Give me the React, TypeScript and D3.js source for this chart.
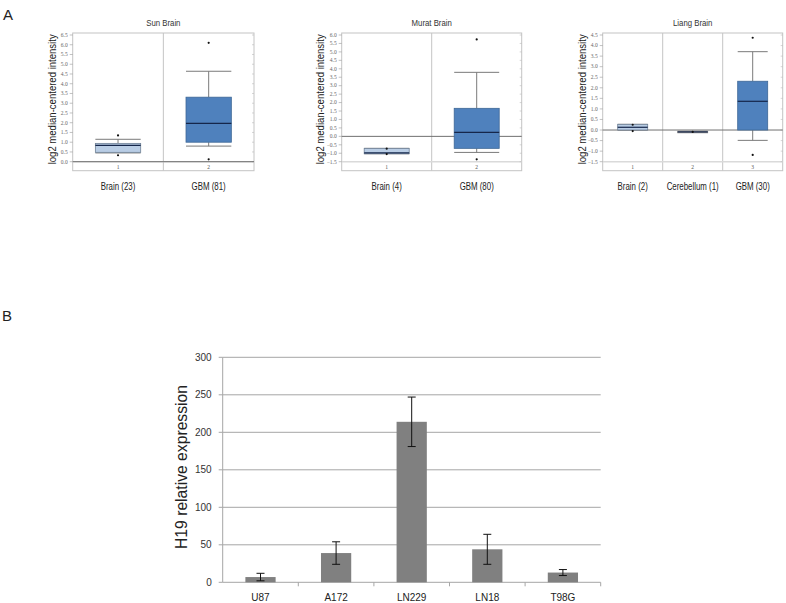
import { useEffect, useRef } from 'react';
import * as d3 from 'd3';

// Panel A: Oncomine box plots (log2 median-centered intensity)
const sunGroups = ['Brain (23)', 'GBM (81)'];
const sunQ1 = [0.48, 1.0];
const sunMedian = [0.84, 1.97];
const sunQ3 = [0.94, 3.31];
const sunLow = [0.45, 0.8];
const sunHigh = [1.15, 4.64];
const sunOutliers = [[1.35, 0.33], [6.1, 0.12]];

const muratGroups = ['Brain (4)', 'GBM (80)'];
const muratQ1 = [-1.03, -0.71];
const muratMedian = [-0.98, 0.24];
const muratQ3 = [-0.71, 1.66];
const muratLow = [-1.03, -0.95];
const muratHigh = [-0.71, 3.79];
const muratOutliers = [[-0.73, -1.05], [5.74, -1.36]];

const liangGroups = ['Brain (2)', 'Cerebellum (1)', 'GBM (30)'];
const liangQ1 = [0.0, -0.12, 0.0];
const liangMedian = [0.13, -0.09, 1.36];
const liangQ3 = [0.27, -0.06, 2.31];
const liangLow = [0.0, -0.12, -0.49];
const liangHigh = [0.27, -0.06, 3.71];
const liangOutliers = [[0.25, -0.05], [-0.09], [4.37, -1.18]];

// Panel B: qPCR bar chart
const cellLines = ['U87', 'A172', 'LN229', 'LN18', 'T98G'];
const h19Expression = [7, 39, 214, 44, 13];
const h19Error = [5, 15, 33, 20, 4];
const h19Ticks = [0, 50, 100, 150, 200, 250, 300];

type Panel = {
  title: string;
  groups: string[];
  q1: number[];
  median: number[];
  q3: number[];
  low: number[];
  high: number[];
  outliers: number[][];
  domain: [number, number];
  left: number;
  right: number;
  labelX: number;
};

const panels: Panel[] = [
  { title: 'Sun Brain', groups: sunGroups, q1: sunQ1, median: sunMedian, q3: sunQ3, low: sunLow, high: sunHigh, outliers: sunOutliers, domain: [0, 6.5], left: 72.7, right: 254, labelX: 52 },
  { title: 'Murat Brain', groups: muratGroups, q1: muratQ1, median: muratMedian, q3: muratQ3, low: muratLow, high: muratHigh, outliers: muratOutliers, domain: [-1.5, 6], left: 341.7, right: 521.7, labelX: 319.5 },
  { title: 'Liang Brain', groups: liangGroups, q1: liangQ1, median: liangMedian, q3: liangQ3, low: liangLow, high: liangHigh, outliers: liangOutliers, domain: [-1.5, 4.5], left: 602.7, right: 782.7, labelX: 581.7 },
];

function boxFill(name: string) {
  if (name.startsWith('GBM')) return '#4f81bd';
  if (name.startsWith('Cerebellum')) return '#a6a6a6';
  return '#b9cde5';
}

function boxStroke(name: string) {
  if (name.startsWith('GBM')) return '#3d6796';
  if (name.startsWith('Cerebellum')) return '#8a8a8a';
  return '#6f8196';
}

// squeeze text horizontally, like the narrow labels of the source figure
function squeeze(sel: d3.Selection<SVGTextElement, unknown, null, undefined>, k: number) {
  const node = sel.node();
  if (!node) return;
  const w = node.getComputedTextLength();
  sel.attr('textLength', w * k).attr('lengthAdjust', 'spacingAndGlyphs');
}

export default function App() {
  const svgRef = useRef<SVGSVGElement | null>(null);

  useEffect(() => {
    if (!svgRef.current) return;
    const svg = d3.select(svgRef.current);
    svg.selectAll('*').remove();

    svg.append('rect').attr('width', 786).attr('height', 603).attr('fill', '#fff');

    // Panel letters
    svg.append('text').attr('x', 3).attr('y', 20).text('A')
      .style('font-family', 'Liberation Sans, Arial, sans-serif').style('font-size', '15px').attr('fill', '#222');
    svg.append('text').attr('x', 2).attr('y', 321).text('B')
      .style('font-family', 'Liberation Sans, Arial, sans-serif').style('font-size', '15px').attr('fill', '#222');

    // ---- Box plots ----
    const top = 33;
    const bottom = 170.7;
    const yTop = 35;
    const yBottom = 161.7;

    panels.forEach((p) => {
      const g = svg.append('g');
      const y = d3.scaleLinear().domain(p.domain).range([yBottom, yTop]);
      const x = d3.scaleBand().domain(p.groups).range([p.left, p.right]).paddingInner(0).paddingOuter(0);
      const bw = x.bandwidth() * 0.5;

      // frame
      g.append('rect')
        .attr('x', p.left).attr('y', top)
        .attr('width', p.right - p.left).attr('height', bottom - top)
        .attr('fill', 'none').attr('stroke', '#c4c4c4').attr('stroke-width', 1);

      // dividers between categories
      p.groups.slice(1).forEach((grp) => {
        g.append('line')
          .attr('x1', x(grp)!).attr('x2', x(grp)!)
          .attr('y1', top).attr('y2', bottom)
          .attr('stroke', '#c4c4c4').attr('stroke-width', 1);
      });

      // bottom band line
      g.append('line')
        .attr('x1', p.left).attr('x2', p.right)
        .attr('y1', yBottom).attr('y2', yBottom)
        .attr('stroke', '#dadada').attr('stroke-width', 1.5);

      // ticks
      const ticks = y.ticks(Math.round((p.domain[1] - p.domain[0]) / 0.5));
      ticks.forEach((t) => {
        g.append('line')
          .attr('x1', p.left - 3).attr('x2', p.left)
          .attr('y1', y(t)).attr('y2', y(t))
          .attr('stroke', '#999').attr('stroke-width', 0.6);
        g.append('line')
          .attr('x1', p.right - 2).attr('x2', p.right)
          .attr('y1', y(t)).attr('y2', y(t))
          .attr('stroke', '#bbb').attr('stroke-width', 0.6);
        g.append('text')
          .attr('x', p.left - 5).attr('y', y(t) + 1.8)
          .attr('text-anchor', 'end')
          .style('font-family', 'Liberation Serif, serif').style('font-size', '5.5px')
          .attr('fill', '#666')
          .text(d3.format('.1f')(t));
      });

      // zero line
      g.append('line')
        .attr('x1', p.left).attr('x2', p.right)
        .attr('y1', y(0)).attr('y2', y(0))
        .attr('stroke', '#707070').attr('stroke-width', 1);

      // boxes
      p.groups.forEach((grp, i) => {
        const cx = x(grp)! + x.bandwidth() / 2;
        const x0 = cx - bw / 2;
        // whiskers
        g.append('line').attr('x1', cx).attr('x2', cx)
          .attr('y1', y(p.q3[i])).attr('y2', y(p.high[i]))
          .attr('stroke', '#7a7a7a').attr('stroke-width', 1);
        g.append('line').attr('x1', cx).attr('x2', cx)
          .attr('y1', y(p.q1[i])).attr('y2', y(p.low[i]))
          .attr('stroke', '#7a7a7a').attr('stroke-width', 1);
        g.append('line').attr('x1', x0).attr('x2', x0 + bw)
          .attr('y1', y(p.high[i])).attr('y2', y(p.high[i]))
          .attr('stroke', '#7a7a7a').attr('stroke-width', 1);
        g.append('line').attr('x1', x0).attr('x2', x0 + bw)
          .attr('y1', y(p.low[i])).attr('y2', y(p.low[i]))
          .attr('stroke', '#7a7a7a').attr('stroke-width', 1);
        // box
        g.append('rect')
          .attr('x', x0).attr('y', y(p.q3[i]))
          .attr('width', bw).attr('height', Math.max(1.5, y(p.q1[i]) - y(p.q3[i])))
          .attr('fill', boxFill(grp)).attr('stroke', boxStroke(grp)).attr('stroke-width', 0.8);
        // median
        g.append('line').attr('x1', x0).attr('x2', x0 + bw)
          .attr('y1', y(p.median[i])).attr('y2', y(p.median[i]))
          .attr('stroke', '#15264a').attr('stroke-width', 1.2);
        // outliers
        p.outliers[i].forEach((v) => {
          g.append('circle').attr('cx', cx).attr('cy', y(v)).attr('r', 1.1).attr('fill', '#111');
        });
        // category index
        g.append('text')
          .attr('x', cx).attr('y', 168.5)
          .attr('text-anchor', 'middle')
          .style('font-family', 'Liberation Serif, serif').style('font-size', '5.5px')
          .attr('fill', '#555')
          .text(String(i + 1));
        // category label
        const lbl = g.append('text')
          .attr('x', cx).attr('y', 189.5)
          .attr('text-anchor', 'middle')
          .style('font-family', 'Liberation Sans, Arial, sans-serif').style('font-size', '10.5px')
          .attr('fill', '#222')
          .text(grp);
        squeeze(lbl, 0.75);
      });

      // title
      const ttl = g.append('text')
        .attr('x', (p.left + p.right) / 2).attr('y', 26)
        .attr('text-anchor', 'middle')
        .style('font-family', 'Liberation Sans, Arial, sans-serif').style('font-size', '9.5px')
        .attr('fill', '#333')
        .text(p.title);
      squeeze(ttl, 0.82);

      // y label
      g.append('text')
        .attr('transform', `translate(${p.labelX + 4},${(top + yBottom) / 2 + 2}) rotate(-90)`)
        .attr('text-anchor', 'middle')
        .style('font-family', 'Liberation Sans, Arial, sans-serif').style('font-size', '11px')
        .attr('fill', '#222')
        .attr('textLength', 130).attr('lengthAdjust', 'spacingAndGlyphs')
        .text('log2 median-centered intensity');
    });

    // ---- Bar chart ----
    const bx0 = 222.7;
    const bx1 = 600.7;
    const by = d3.scaleLinear().domain([0, 300]).range([582.3, 357.3]);
    const bxs = d3.scaleBand().domain(cellLines).range([bx0, bx1]).paddingInner(0.6).paddingOuter(0.3);
    const band = d3.scaleBand().domain(cellLines).range([bx0, bx1]).padding(0);
    const font = 'Liberation Sans, Arial, sans-serif';

    const gb = svg.append('g');
    // gridlines
    h19Ticks.forEach((t) => {
      if (t > 0) {
        gb.append('line').attr('x1', bx0).attr('x2', bx1)
          .attr('y1', by(t)).attr('y2', by(t))
          .attr('stroke', '#a6a6a6').attr('stroke-width', 1);
      }
      gb.append('line').attr('x1', bx0 - 4).attr('x2', bx0)
        .attr('y1', by(t)).attr('y2', by(t))
        .attr('stroke', '#a6a6a6').attr('stroke-width', 1);
      gb.append('text')
        .attr('x', bx0 - 11).attr('y', by(t) + 3.5)
        .attr('text-anchor', 'end')
        .style('font-family', font).style('font-size', '10px')
        .attr('fill', '#333')
        .text(String(t));
    });
    // axes
    gb.append('line').attr('x1', bx0).attr('x2', bx0)
      .attr('y1', by(300)).attr('y2', by(0))
      .attr('stroke', '#a6a6a6').attr('stroke-width', 1);
    gb.append('line').attr('x1', bx0).attr('x2', bx1)
      .attr('y1', by(0)).attr('y2', by(0))
      .attr('stroke', '#a6a6a6').attr('stroke-width', 1);
    [...cellLines, null].forEach((c, i) => {
      const xx = c ? band(c)! : bx1;
      if (i === 0) return;
      gb.append('line').attr('x1', xx).attr('x2', xx)
        .attr('y1', by(0)).attr('y2', by(0) + 4)
        .attr('stroke', '#a6a6a6').attr('stroke-width', 1);
    });

    // bars
    cellLines.forEach((c, i) => {
      const x = bxs(c)!;
      const w = bxs.bandwidth();
      gb.append('rect')
        .attr('x', x).attr('y', by(h19Expression[i]))
        .attr('width', w).attr('height', by(0) - by(h19Expression[i]))
        .attr('fill', '#808080');
      const cx = x + w / 2;
      const hi = by(h19Expression[i] + h19Error[i]);
      const lo = by(h19Expression[i] - h19Error[i]);
      gb.append('line').attr('x1', cx).attr('x2', cx).attr('y1', hi).attr('y2', lo)
        .attr('stroke', '#111').attr('stroke-width', 1);
      gb.append('line').attr('x1', cx - 4).attr('x2', cx + 4).attr('y1', hi).attr('y2', hi)
        .attr('stroke', '#111').attr('stroke-width', 1);
      gb.append('line').attr('x1', cx - 4).attr('x2', cx + 4).attr('y1', lo).attr('y2', lo)
        .attr('stroke', '#111').attr('stroke-width', 1);
      gb.append('text')
        .attr('x', band(c)! + band.bandwidth() / 2).attr('y', 601)
        .attr('text-anchor', 'middle')
        .style('font-family', font).style('font-size', '10px')
        .attr('fill', '#222')
        .text(c);
    });

    gb.append('text')
      .attr('transform', `translate(${187},${467}) rotate(-90)`)
      .attr('text-anchor', 'middle')
      .style('font-family', font).style('font-size', '16px')
      .attr('fill', '#222')
      .attr('textLength', 164).attr('lengthAdjust', 'spacingAndGlyphs')
      .text('H19 relative expression');
  }, []);

  return (
    <svg
      ref={svgRef}
      width={786}
      height={603}
      style={{ position: 'absolute', left: 0, top: 0, display: 'block' }}
    />
  );
}
